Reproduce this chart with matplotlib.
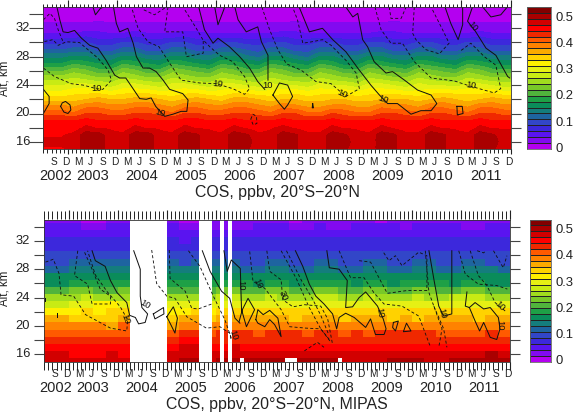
import numpy as np
import matplotlib
matplotlib.use("Agg")
import matplotlib.pyplot as plt
from matplotlib.colors import ListedColormap, BoundaryNorm

plt.rcParams['font.family'] = ['Liberation Sans', 'DejaVu Sans']
W, H = 576, 412

band_rgb = [(180,0,240),(130,10,240),(90,20,240),(60,40,220),(50,70,200),(30,100,160),(20,125,125),(10,140,90),
            (30,160,70),(80,180,60),(120,200,40),(160,220,30),(200,235,20),(230,240,20),(255,240,0),(255,210,0),
            (250,170,0),(255,130,0),(255,90,0),(240,40,0),(255,0,0),(210,0,0),(170,0,0),(130,0,0)]
levels = np.linspace(0, 0.54, 25)
altitudes = list(range(15, 36))
year_names = ['2002','2003','2004','2005','2006','2007','2008','2009','2010','2011']
top_year_px = [56,93,141.7,191,240,289,338.7,388,437,485.7]
bot_year_px = [56,93,141.7,191,240,289,338,387,436,484]
season_letters = ['S','D','M','J']

# hundredths of ppbv; columns: Jul02 Oct02, then Jan Apr Jul Oct for 2003..2011
top_z15=[47,47, 48,51,51,48, 48,51,51,48, 48,51,50,48, 48,51,50,48, 48,51,50,48, 48,51,50,48, 48,51,50,48, 48,51,50,48, 48,51,50,48]
top_z16=[48,48, 48,51,51,48, 48,51,51,48, 48,51,50,48, 48,51,51,48, 48,51,50,48, 48,51,51,48, 48,51,50,48, 48,51,50,48, 48,51,51,48]
top_z17=[47,47, 48,51,51,48, 48,51,51,48, 48,51,50,48, 48,51,50,48, 48,51,50,48, 48,51,50,48, 48,51,50,48, 48,51,50,48, 48,51,50,48]
top_z18=[46,46, 46,48,47,47, 46,48,47,47, 46,48,47,47, 46,48,47,46, 47,48,47,46, 46,48,47,47, 46,48,47,46, 46,48,47,47, 46,48,47,47]
top_z19=[45,45, 45,46,45,45, 45,46,45,45, 45,46,46,45, 45,46,45,45, 45,46,45,45, 45,46,45,45, 45,46,45,45, 45,46,45,45, 45,46,45,45]
top_z20=[42,42, 41,43,43,42, 42,43,43,42, 41,43,43,42, 42,43,43,42, 41,43,43,41, 41,43,42,41, 41,43,43,42, 41,43,43,42, 41,43,43,42]
top_z21=[39,39, 38,40,40,39, 39,40,40,39, 38,40,40,39, 39,40,40,39, 38,40,39,38, 38,39,39,38, 38,40,39,39, 38,40,40,39, 38,40,40,39]
top_z22=[35,35, 35,36,37,36, 36,37,37,36, 35,36,37,36, 35,37,37,36, 35,36,36,35, 35,36,36,35, 35,36,36,36, 35,36,37,36, 35,36,37,36]
top_z23=[32,32, 33,33,33,32, 33,33,33,32, 32,33,33,32, 32,33,33,32, 32,33,33,32, 33,33,33,32, 33,33,33,32, 32,33,33,33, 33,33,33,32]
top_z24=[29,29, 30,30,29,28, 30,30,29,28, 30,30,29,28, 30,30,29,28, 30,29,29,28, 30,29,29,28, 30,30,29,28, 30,29,29,28, 30,30,29,28]
top_z25=[26,26, 27,26,25,25, 27,26,25,25, 27,26,25,25, 27,26,25,25, 27,26,25,25, 27,26,25,24, 27,26,25,25, 27,26,25,25, 27,26,25,25]
top_z26=[22,22, 24,23,21,21, 24,23,21,21, 24,23,22,21, 24,23,21,21, 24,23,21,21, 24,23,21,21, 24,23,22,21, 24,23,22,21, 24,23,21,21]
top_z27=[18,18, 20,19,18,17, 20,19,18,17, 20,19,18,17, 20,19,18,17, 20,19,18,17, 20,19,17,17, 20,19,18,17, 20,19,18,17, 20,19,18,17]
top_z28=[15,15, 16,16,14,14, 16,16,14,14, 16,16,14,14, 16,16,14,13, 16,16,14,13, 16,16,14,14, 16,16,14,14, 16,16,14,14, 16,16,14,14]
top_z29=[11,11, 12,12,10,10, 12,12,10,10, 12,12,10,10, 12,12,11,10, 12,12,10,10, 12,12,10,10, 12,12,10,10, 12,12,10,10, 12,12,10,10]
top_z30=[8,8, 9,9,8,8, 9,9,8,8, 9,9,8,8, 9,9,8,8, 9,9,8,8, 9,9,8,8, 9,9,8,8, 9,9,8,8, 9,9,8,8]
top_z31=[5,5, 5,6,5,5, 5,6,5,5, 5,6,5,5, 5,5,5,5, 5,6,5,5, 5,5,5,5, 5,6,5,5, 5,5,5,5, 5,6,5,5]
top_z32=[3,3, 3,3,4,3, 3,3,3,3, 3,3,4,3, 3,3,3,3, 3,3,4,3, 3,3,3,3, 3,3,4,3, 3,3,3,3, 3,3,3,3]
top_z33=[2,2, 2,2,2,2, 2,2,2,2, 2,2,2,2, 2,2,2,2, 2,2,2,2, 2,2,2,2, 2,2,2,2, 2,2,2,2, 2,2,2,2]
top_z34=[1,1, 1,1,1,1, 1,1,1,1, 1,1,1,1, 1,1,1,1, 1,1,1,1, 1,1,1,1, 1,1,1,1, 1,1,1,1, 1,1,1,1]
top_z35=[1,1, 1,1,1,1, 1,1,1,1, 1,1,1,1, 1,1,1,1, 1,1,1,1, 1,1,1,1, 1,1,1,1, 1,1,1,1, 1,1,1,1]

bot_z15=[48,48, 48,49,49,48, 48,48,48,48, 49,50,50,49, 50,50,50,50, 50,50,50,50, 50,50,49,49, 49,49,50,50, 50,49,49,50, 50,50,50,50]
bot_z16=[48,48, 47,47,47,48, 47,47,47,47, 48,49,49,48, 49,49,49,49, 49,48,48,48, 48,48,48,48, 48,48,48,48, 48,48,48,48, 48,48,51,48]
bot_z17=[46,46, 46,46,46,46, 46,46,46,46, 46,48,49,47, 47,48,47,47, 47,47,47,47, 47,47,47,47, 47,47,47,47, 47,47,47,47, 47,47,47,47]
bot_z18=[44,44, 44,44,44,44, 44,44,44,44, 44,46,47,45, 45,45,45,45, 45,45,45,45, 45,45,45,45, 45,45,45,45, 45,45,45,45, 45,45,45,45]
bot_z19=[42,42, 42,42,42,41, 41,41,41,41, 41,43,44,42, 43,43,43,42, 43,43,43,42, 43,43,42,43, 42,43,43,43, 43,43,42,42, 42,42,43,42]
bot_z20=[39,39, 39,39,39,38, 41,38,38,38, 38,39,40,39, 40,40,40,39, 40,39,39,39, 39,39,39,39, 39,39,39,39, 39,39,40,39, 39,39,39,39]
bot_z21=[37,37, 36,36,36,36, 38,36,36,36, 36,37,37,36, 37,37,37,37, 37,37,36,37, 37,37,36,37, 37,37,36,37, 36,37,37,37, 37,36,37,37]
bot_z22=[33,33, 33,34,33,34, 34,34,34,34, 33,33,34,33, 35,34,34,34, 35,34,34,34, 34,34,34,34, 34,34,34,34, 34,34,34,34, 34,34,34,34]
bot_z23=[29,29, 31,30,32,32, 30,30,30,30, 30,31,31,30, 31,31,30,30, 31,31,30,30, 31,31,30,30, 31,31,31,30, 31,31,31,31, 31,31,30,30]
bot_z24=[26,26, 26,27,26,26, 26,26,26,26, 26,26,26,26, 27,27,26,26, 27,26,26,26, 27,27,26,26, 27,26,26,26, 27,26,26,27, 27,27,26,26]
bot_z25=[22,22, 23,23,22,22, 23,23,22,22, 22,22,22,22, 23,23,22,22, 23,23,22,22, 23,23,22,22, 23,23,22,22, 23,23,22,22, 23,23,22,22]
bot_z26=[18,18, 20,20,19,19, 19,19,19,19, 19,19,19,19, 20,19,19,18, 20,19,18,19, 20,19,19,18, 20,19,18,19, 20,19,19,18, 20,19,18,18]
bot_z27=[16,16, 17,16,16,16, 16,16,16,16, 16,16,16,16, 16,16,16,16, 16,16,16,16, 16,16,16,16, 16,16,16,16, 16,16,16,16, 16,16,16,16]
bot_z28=[13,13, 14,14,14,14, 14,14,14,14, 14,14,14,14, 14,14,13,13, 14,14,13,13, 14,14,13,13, 14,14,13,13, 14,14,13,13, 14,14,14,13]
bot_z29=[11,11, 12,12,12,12, 12,12,12,12, 12,11,12,12, 12,12,11,11, 12,12,11,11, 12,12,11,11, 12,12,11,11, 12,12,11,11, 12,12,11,11]
bot_z30=[10,10, 10,10,10,10, 10,10,10,10, 10,10,10,10, 10,10,10,10, 10,10,10,10, 10,10,10,10, 10,10,10,10, 10,10,10,10, 10,10,10,10]
bot_z31=[9,9, 9,9,9,9, 9,9,9,9, 9,8,9,9, 9,9,9,9, 9,9,8,9, 9,9,9,9, 9,9,9,9, 9,9,9,9, 9,9,9,9]
bot_z32=[8,8, 7,7,7,8, 8,7,7,8, 8,6,7,7, 8,7,7,8, 8,7,7,7, 8,7,7,8, 8,7,7,8, 8,7,7,8, 8,7,7,8]
bot_z33=[6,6, 6,5,5,6, 6,6,6,6, 6,5,5,5, 6,6,6,6, 6,6,5,6, 6,6,6,6, 6,6,6,6, 6,6,6,6, 6,6,6,6]
bot_z34=[5,5, 5,3,3,5, 5,5,5,5, 5,3,3,4, 4,4,4,5, 5,5,4,4, 5,4,4,5, 5,5,5,4, 5,5,5,5, 4,4,5,5]
bot_z35=[4,4, 3,1,1,3, 3,3,3,3, 4,2,2,3, 3,3,3,3, 3,3,2,3, 3,3,3,3, 3,2,3,3, 3,3,3,3, 3,3,3,3]

# months (0 = Jan 2002) with no data in the lower panel
gap_months = [(26,35),(43,46),(48,49),(50,51)]
low_row_gap_months = [(53,54),(64,67),(77,78)]

# isolines of the relative error: (month, altitude km)
top_solid = [
 [(8.3,35),(9,33.2),(9.8,31.5),(11,31.4),(12.6,31.7),(14.3,30.6),(16.3,29.6),(18.3,29.2),(20.3,27.5),(22.4,25.4),(23.6,25),(25.1,25),(26.4,23.9),(28.5,22.1),(30.1,22),(31.3,22.2),(32.4,21),(34.6,19.6),(36.6,19.9),(38.6,20.3),(40,20.3),(40.3,21.9),(39,22.8),(35.8,23.4),(34.2,24.7),(32.5,25.9),(30.9,26.4),(29.3,26.4),(27.7,28),(26.9,29.9),(25.6,32),(23.6,31.5),(22.8,32.7),(22.1,35)],
 [(5,23.4),(6.4,22.4),(6.4,21.4),(5,20)],
 [(9.2,21),(9.6,21.5),(10.4,21.7),(11.5,21.2),(11.7,20.5),(11,20),(10,20.2),(9.2,21)],
 [(42.9,35),(44.3,31.8),(46.4,29.9),(47.6,30.6),(50.4,29.4),(52.9,28),(55.3,26.4),(57.3,24.5),(59,23.4)],
 [(59.8,24.7),(59.8,28.2),(58.2,30.1),(57.3,32.2),(54.5,31.5),(52.5,33.2),(51.7,35)],
 [(46.8,35),(47.6,32.5),(49,34.6),(49.2,35)],
 [(17.1,35),(17.7,33.9),(18.9,34.8),(19.7,35)],
 [(61,22.6),(62.6,24.3),(64.6,24),(65.8,22.4),(64.6,21.2),(63.8,20.6),(62.6,21.4),(61,22.6)],
 [(67.4,35),(69.9,31.5),(73.1,32),(75.6,30.4),(78.8,28.7),(81.7,26.4),(84.9,24),(87,22.6),(89,21.4),(91.4,21.4),(94.7,19.9),(97.1,20.4),(99.6,20.4),(101,21.4),(99.6,22.6),(96.3,23.3),(93.1,24.7),(90.2,25.9),(88.6,25.7),(85.7,27.3),(84.1,29.4),(82.9,30.4),(81.7,34.1),(80.5,33.6),(78.8,35)],
 [(103,35),(104.4,32.7),(106.2,30.4),(107.3,32.5),(107.3,35)],
 [(109.7,35),(108.5,33),(110.5,31.5),(113,29.2),(115.4,28.2),(118.3,25.2),(118.8,25)],
 [(112.2,35),(114.2,33.6),(116.6,33.9),(118.2,35)],
 [(105.9,21),(107.2,21),(107.4,20),(106,19.8),(105.9,21)],
 [(70.7,21.4),(70.9,20.8),(70.6,20.8),(70.7,21.4)],
]
top_dashed = [
 [(5,26.4),(7.7,25.2),(11.8,24.2),(14.7,24),(17.9,23.5),(19.5,23.4),(21.6,24.7),(20.8,26.1),(18.3,27.8),(13.8,30),(10.6,30.1),(8.6,29.6),(7.3,30.4),(5,30.1)],
 [(5,33.2),(6.6,34.1),(7.7,33.4),(8.6,31.8),(9.8,30.1)],
 [(26.7,34.6),(28.1,32),(30.5,30.1),(33.2,29.4),(35,27.8),(36.6,26.4),(38.6,24.7),(43.1,24.3),(47.2,24.2),(51.2,23.5),(54.1,22.7),(55.3,23.5),(54.1,25.2),(51.2,27.3),(48,28.2),(45.6,29.4),(43.9,30.4),(42.3,32),(39.5,34.6)],
 [(29.5,34.6),(32.1,33.9),(35,35)],
 [(35.4,35),(34.6,31.5),(39,31.5),(39.9,28),(44,28.5),(44,30.4)],
 [(58.3,35),(60.2,31.8),(62.2,29),(64.3,27),(67.9,26.1),(71.5,24.5),(75.2,24.2),(78.8,22.4),(82.1,23.5),(81.3,25.7),(78.8,27.5),(75.2,29.6),(73.1,30.4),(70.5,30.1),(68.3,29.9),(67,33.2),(65.8,35)],
 [(85.9,35),(87.4,31.8),(89.8,29.9),(92.6,29.9),(95.5,27.3),(99.6,25),(105.2,24.6),(108.9,23.9),(115,22.9),(116.6,23.5),(115.4,26.8),(112.6,28),(109.3,29.9),(106.5,28.7)],
 [(95.5,35),(95.1,31.3),(95.9,30.4),(98.3,29),(101.6,28.4),(104,29.9),(102.4,31.8),(99.6,35)],
 [(89.4,35),(89.8,33.4),(92.3,33.4),(93.5,35)],
 [(55.6,19.2),(56.1,19.9),(57,19.6),(57.1,18.6),(56.2,18.4),(55.6,19.2)],
]
top_labels = [(17.9,23.5,0),(33.4,20.1,-15),(47.6,24.1,-5),(59.6,23.9,0),(77.8,22.7,-25),(87.8,22,-20),(109.2,23.9,-10),(109.7,32.2,-50)]

bot_solid = [
 [(16.7,30.6),(17.5,29.2),(19.9,28.4),(21.2,26.4),(22.8,24.7),(25.2,23.3),(25.9,21.5),(27.3,21.2),(28.1,20.3),(29.7,20.5),(30.3,21.7),(28.9,22.6),(28.5,24.2),(28.5,28),(26.9,30.6)],
 [(31.7,21.7),(34.2,22.6),(34.3,21.7),(32.1,21),(31.7,21.7)],
 [(8,21.8),(8,21.3)],
 [(5.1,24),(5.1,23.5)],
 [(43.7,30.6),(45.6,27.7),(48.4,24.9),(50.4,23.9),(51.7,21.1),(52.9,20.4)],
 [(49,30.6),(49.8,27.7),(50.8,29.3),(53,28.1),(53.3,22.3),(54.5,19.9),(56.5,22.3),(54.9,23.9),(53.5,22.3),(52.7,20.6)],
 [(35,21.3),(36.6,22.7),(37.6,21.1),(37,19),(35.8,20.4),(35,21.3)],
 [(56.8,20.9),(57.3,22.3),(58.6,21.6),(60.2,22.2),(62.2,21.1),(63,18.5),(61.4,20.2),(60.2,20.9),(59,19.9),(57.3,20.4),(56.8,20.9)],
 [(66.5,30.6),(68.3,28.4),(69.9,25.9),(71.5,24.2),(73.5,23.1),(75.6,21.7),(76.6,19.6),(77.2,21.2),(78.8,21.8),(80.9,21.2),(83.7,19.8),(84.9,21),(86.1,18.8),(88.2,18.8),(88.7,19.6),(88,21),(86.6,22.8),(83.7,24.8),(82.1,24),(80.5,22.7),(78.8,22.6),(79.2,26.4),(77.2,28),(74.8,28.2),(74.2,30.6)],
 [(90.5,20.5),(91.7,20.7),(91,19.3),(90.3,19.8),(90.5,20.5)],
 [(93,19.3),(93.7,20.4),(94.8,19.3),(93,19.2)],
 [(99.2,30.6),(100.4,26.6),(101.6,22.8),(102.8,21.4),(104.8,21.7),(104.8,30.6)],
 [(108.5,24.8),(108.1,22.8),(109.1,22.6),(110.5,23.3),(112.6,22.4),(114.2,22.6),(116.2,21.2),(116.6,19.6),(115.8,18.1),(114.2,18.4),(112.6,20.5),(111.6,19.3),(110.5,20.7),(109.1,22.6)],
]
bot_dashed = [
 [(5.3,29),(7.2,29.4),(8.6,27.4),(9.1,24.4),(12.2,24.2),(15.1,21.6),(21.2,19.7),(25.2,19.3),(25.4,20.9),(23.6,22.7),(20.3,24.9),(17.5,27.2),(15.6,30.6)],
 [(13.2,30.6),(12.4,27.1),(15.6,25.9),(16.7,23.1),(21.2,23.1),(21.2,24.2),(18.7,25.2),(16.7,28),(14.7,30.6)],
 [(35.6,30.7),(35.8,26.7),(39.5,24.9),(41.1,22.5),(42.7,22.4),(46,23.1)],
 [(40.3,30.6),(43.1,28.4),(46.4,24.2),(49.2,20.9),(50.8,18.3)],
 [(31.3,30.7),(32.5,26),(35,24.2),(37,23.9),(39.9,21.3),(44.7,19.7),(48,19.9),(50.4,19),(50.8,18)],
 [(55.3,30.5),(56.1,26.3),(59,25.3),(63,22.3),(65.1,19.9),(69.1,19.7),(72.7,19.6),(74.8,18.1)],
 [(59.5,30.6),(60.2,27.7),(63,26.5),(63.4,23.7),(65.9,22.7),(68.7,23),(72.7,22.8),(74.4,21),(75.6,17.4)],
 [(63,30.6),(66.7,26.7),(69.8,22.7),(72.7,19.6),(75.2,17.7)],
 [(64.3,30.6),(67.9,26.5),(70.7,23.8),(72.7,21.5),(74.5,19)],
 [(68.7,16.5),(71.9,17.7),(73.5,17)],
 [(77.2,30.6),(80,26.8),(83.3,26.8),(85.7,24.7),(88.2,23.1),(92.6,22.8),(96.7,21.4),(99.6,17)],
 [(82.1,29.2),(84.9,29),(89,24.6),(93.9,25),(98.7,25),(98.7,29.9),(96.7,30.4),(92.6,28.5),(91,29.9),(89.4,29.2),(87.8,30.6)],
 [(98.3,30.6),(99.2,24.7),(102.4,19.6),(101.6,17)],
 [(100.4,22.8),(102.8,19.6),(103.6,17)],
 [(106.5,30.6),(108.1,27.3),(111.3,25.9),(115.8,25.7),(118.4,25.2)],
 [(109.3,30.6),(111.3,27.1),(113.4,25.7),(115.4,23.3),(117.9,22.1)],
 [(111,30.6),(112.6,30.3),(113.1,30.6)],
 [(115,30.6),(117.4,28.2),(118.3,29.9)],
]
bot_labels = [(24.8,21,'10',-70),(29.7,23,'10',-30),(53,25.7,'10',-90),(57.3,25.9,'10',-65),(63.4,24.3,'30',-65),(51.2,18.7,'10',-70),(87.2,21.9,'10',-80),(102.4,21.8,'10',-75),(116.6,22.8,'10',-45),(116.6,20.1,'10',-90)]

top_rows = [top_z15,top_z16,top_z17,top_z18,top_z19,top_z20,top_z21,top_z22,top_z23,top_z24,top_z25,top_z26,top_z27,top_z28,top_z29,top_z30,top_z31,top_z32,top_z33,top_z34,top_z35]
bot_rows = [bot_z15,bot_z16,bot_z17,bot_z18,bot_z19,bot_z20,bot_z21,bot_z22,bot_z23,bot_z24,bot_z25,bot_z26,bot_z27,bot_z28,bot_z29,bot_z30,bot_z31,bot_z32,bot_z33,bot_z34,bot_z35]

cmap = ListedColormap([tuple(c/255 for c in rgb) for rgb in band_rgb])
cmap.set_bad('white')
norm = BoundaryNorm(levels, cmap.N, clip=True)
T0, T1 = 5, 119

fig = plt.figure(figsize=(W/100, H/100), dpi=100)

def new_ax(x0, x1, y0, y1):
    return fig.add_axes([x0/W, 1-y1/H, (x1-x0)/W, (y1-y0)/H])

def put(x, y, s, **kw):
    fig.text(x/W, 1-y/H, s, ha=kw.pop('ha','center'), va=kw.pop('va','center'), color='#222222', **kw)

def ax_y(ax, z):
    pos = ax.get_position()
    yf = pos.y0 + (z-15)/20*pos.height
    return (1-yf)*H

def frame(ax, xl, xr, ylen_left, top_minor, top_major, bot_minor, bot_major, year_px, ylet, yyear, ytitle, title, yalt):
    ax.set_xlim(T0, T1); ax.set_ylim(15, 35)
    ax.set_xticks(np.arange(11, 120, 12))
    ax.set_xticks(np.arange(T0, T1+1), minor=True)
    ax.set_yticks(np.arange(16, 35, 2))
    ax.set_xticklabels([]); ax.set_yticklabels([])
    ax.tick_params(axis='x', which='minor', top=False, bottom=True, direction='out', length=bot_minor, width=0.7, color='#222222')
    ax.tick_params(axis='x', which='major', top=False, bottom=True, direction='out', length=bot_major, width=0.8, color='#222222')
    ax.tick_params(axis='y', which='major', left=True, right=False, direction='out', length=ylen_left, width=0.8, color='#444444')
    for s in ax.spines.values():
        s.set_linewidth(0.6); s.set_color('#333333')
    sec = ax.secondary_xaxis('top')
    sec.set_xticks(np.arange(11, 120, 12)); sec.set_xticklabels([])
    sec.set_xticks(np.arange(T0, T1+1), minor=True)
    sec.tick_params(which='minor', length=top_minor, width=0.7, color='#222222')
    sec.tick_params(which='major', length=top_major, width=0.8, color='#222222')
    sec.spines['top'].set_visible(False)
    sr = ax.secondary_yaxis('right')
    sr.set_yticks(np.arange(16, 35, 2)); sr.set_yticklabels([])
    sr.tick_params(length=7, width=0.8, color='#444444')
    sr.spines['right'].set_visible(False)
    px = (xr-xl)/(T1-T0)
    m = 8
    i = 0
    while m <= T1:
        put(xl+(m-T0-0.5)*px, ylet, season_letters[i % 4], fontsize=7.3)
        m += 3; i += 1
    for name, xp in zip(year_names, year_px):
        put(xp, yyear, name, fontsize=10.5)
    for z in np.arange(16, 33, 4):
        put(30, ax_y(ax, z), str(z), ha='right', fontsize=9.3)
    put(277, ytitle, title, fontsize=11.4)
    put(4.5, yalt, 'Alt, km', rotation=90, fontsize=8.3)

def lines(ax, solid, dashed):
    for seg in solid:
        a = np.array(seg); ax.plot(a[:,0], a[:,1], color='#111111', lw=0.72, solid_joinstyle='round')
    for seg in dashed:
        a = np.array(seg); ax.plot(a[:,0], a[:,1], color='#111111', lw=0.62, ls=(0,(3.5,2.6)))

def colorbar(x0, x1, y0, y1):
    c = new_ax(x0, x1, y0, y1)
    mids = (levels[:-1]+levels[1:])/2
    c.pcolormesh([0,1], levels, mids[:,None], cmap=cmap, norm=norm, edgecolors='#222222', linewidth=0.5)
    c.set_xticks([]); c.set_yticks([])
    for s in c.spines.values():
        s.set_linewidth(0.6); s.set_color('#666666')
    for v in [0,0.1,0.2,0.3,0.4,0.5]:
        yy = y1-(y1-y0)*v/0.54
        put(556, yy, '0' if v==0 else f'{v:.1f}', ha='left', fontsize=9.4)

# upper panel
ax1 = new_ax(43.4, 510.6, 7, 149)
top = np.array(top_rows)/100
ax1.imshow(top, origin='lower', extent=(T0,T1,14.5,35.5), aspect='auto', cmap=cmap, norm=norm, interpolation='bilinear', interpolation_stage='data')
lines(ax1, top_solid, top_dashed)
for t,z,r in top_labels:
    ax1.text(t, z, '10', fontsize=6.8, rotation=r, ha='center', va='center', color='#111111')
frame(ax1, 43.4, 510.6, 10, 2.2, 5, 2.8, 3.4, top_year_px, 162, 176, 192, 'COS, ppbv, 20°S−20°N', 78)
colorbar(527, 551, 7, 149)

# lower panel
ax2 = new_ax(44.3, 509.8, 219.5, 361.5)
low = np.repeat(np.array(bot_rows)/100, 3, axis=1).astype(float)
for a,b in gap_months:
    low[:, a-T0:b-T0] = np.nan
for a,b in low_row_gap_months:
    low[0, a-T0:b-T0] = np.nan
ax2.pcolormesh(np.arange(T0,T1+1), np.arange(14.5,36), low, cmap=cmap, norm=norm, shading='flat')
lines(ax2, bot_solid, bot_dashed)
for t,z,s,r in bot_labels:
    ax2.text(t, z, s, fontsize=6.8, rotation=r, ha='center', va='center', color='#111111')
frame(ax2, 44.3, 509.8, 7, 5.5, 6.5, 5.5, 6, bot_year_px, 374, 388, 405, 'COS, ppbv, 20°S−20°N, MIPAS', 288)
colorbar(529.7, 551, 219.5, 361.5)

fig.savefig('out.png', dpi=100)
